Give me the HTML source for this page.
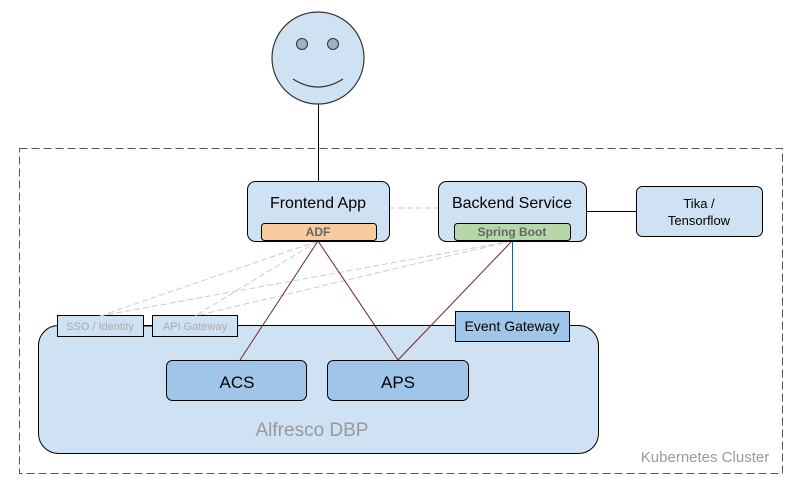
<!DOCTYPE html>
<html><head><meta charset="utf-8"><style>
html,body{margin:0;padding:0;background:#fff;}
svg{display:block;font-family:"Liberation Sans",Arial,sans-serif;}
</style></head><body>
<svg width="803" height="488" viewBox="0 0 803 488" xmlns="http://www.w3.org/2000/svg">
<rect x="19.5" y="148.5" width="763" height="325" fill="none" stroke="#555" stroke-dasharray="8,4"/>
<text x="705" y="462" font-size="15" fill="#999" text-anchor="middle">Kubernetes Cluster</text>
<!-- face -->
<circle cx="318" cy="58" r="46" fill="#cfe2f3" stroke="#333" stroke-width="1.2"/>
<circle cx="302" cy="44" r="5.5" fill="#9fb0c0" stroke="#333"/>
<circle cx="333" cy="44" r="5.5" fill="#9fb0c0" stroke="#333"/>
<path d="M293 79 Q318 95 343 79" fill="none" stroke="#333" stroke-width="1.2"/>
<line x1="318.5" y1="104" x2="318.5" y2="181" stroke="#000"/>
<!-- DBP -->
<rect x="38.5" y="325.5" width="560" height="128" rx="20" fill="#cfe2f3" stroke="#000"/>
<text x="312" y="436" font-size="19" fill="#999" text-anchor="middle">Alfresco DBP</text>
<line x1="143" y1="326" x2="152" y2="326" stroke="#000"/>
<rect x="57.5" y="315.5" width="86" height="21" fill="#cfe2f3" stroke="#000"/>
<text x="100" y="330" font-size="11" fill="#aaa" text-anchor="middle">SSO / Identity</text>
<rect x="152.5" y="315.5" width="85" height="21" fill="#cfe2f3" stroke="#000"/>
<text x="195" y="330" font-size="11" fill="#aaa" text-anchor="middle">API Gateway</text>
<rect x="455.5" y="311.5" width="114" height="30" fill="#9fc5e8" stroke="#000"/>
<text x="512" y="331" font-size="14" fill="#000" text-anchor="middle">Event Gateway</text>
<rect x="166.5" y="360.5" width="140" height="40" rx="6" fill="#9fc5e8" stroke="#000"/>
<text x="237" y="388" font-size="17" fill="#000" text-anchor="middle">ACS</text>
<rect x="327.5" y="360.5" width="141" height="40" rx="6" fill="#9fc5e8" stroke="#000"/>
<text x="398" y="388" font-size="17" fill="#000" text-anchor="middle">APS</text>
<!-- dashed gray links -->
<g stroke="#ccc" stroke-dasharray="6,3" fill="none">
<line x1="389" y1="208" x2="438" y2="208"/>
<line x1="318" y1="241" x2="100" y2="316"/>
<line x1="318" y1="241" x2="195" y2="316"/>
<line x1="512" y1="241" x2="100" y2="316"/>
<line x1="512" y1="241" x2="195" y2="316"/>
</g>
<!-- brown links -->
<g stroke="#6b2a1f" fill="none">
<line x1="318" y1="241" x2="240" y2="360"/>
<line x1="318" y1="241" x2="398" y2="360"/>
<line x1="512" y1="241" x2="398" y2="360"/>
</g>
<line x1="512.5" y1="241" x2="512.5" y2="311" stroke="#1f5fa0"/>
<line x1="587" y1="211.5" x2="636" y2="211.5" stroke="#000"/>
<!-- frontend -->
<rect x="247.5" y="181.5" width="142" height="60" rx="8" fill="#cfe2f3" stroke="#000"/>
<text x="318" y="208" font-size="16" fill="#000" text-anchor="middle">Frontend App</text>
<rect x="261.5" y="223.5" width="115" height="17" rx="3" fill="#f9cb9c" stroke="#000"/>
<text x="318" y="236" font-size="12" font-weight="bold" fill="#666" text-anchor="middle">ADF</text>
<!-- backend -->
<rect x="438.5" y="181.5" width="148" height="60" rx="8" fill="#cfe2f3" stroke="#000"/>
<text x="512" y="208" font-size="16" fill="#000" text-anchor="middle">Backend Service</text>
<rect x="454.5" y="223.5" width="116" height="17" rx="3" fill="#b6d7a8" stroke="#000"/>
<text x="512" y="236" font-size="12" font-weight="bold" fill="#666" text-anchor="middle">Spring Boot</text>
<!-- tika -->
<rect x="636.5" y="186.5" width="126" height="50" rx="6" fill="#cfe2f3" stroke="#000"/>
<text x="699" y="208" font-size="13" fill="#000" text-anchor="middle">Tika /</text>
<text x="699" y="225" font-size="13" fill="#000" text-anchor="middle">Tensorflow</text>
</svg>
</body></html>
